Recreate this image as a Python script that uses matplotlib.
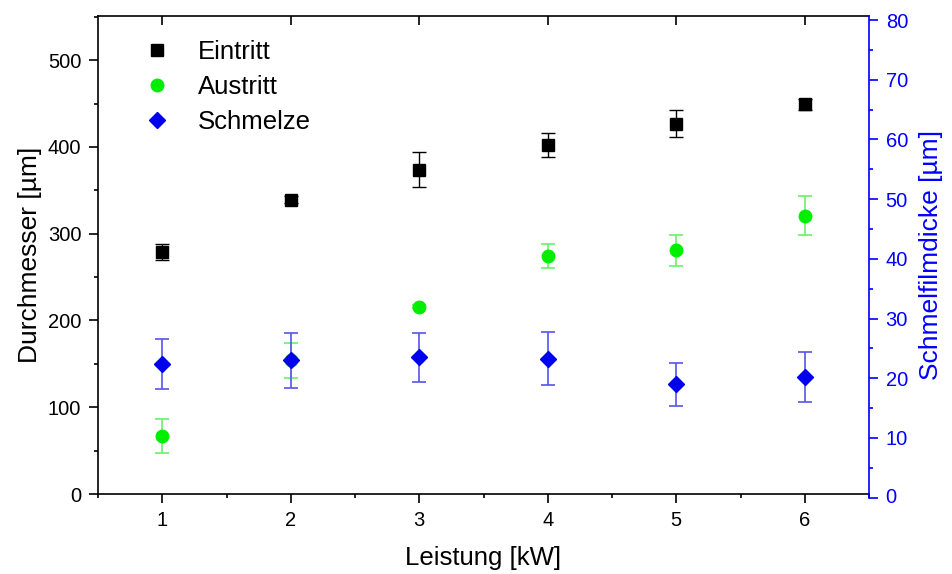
import matplotlib
matplotlib.use("Agg")
import matplotlib.pyplot as plt
from matplotlib.ticker import MultipleLocator
from matplotlib.lines import Line2D
import matplotlib.transforms as mtransforms

plt.rcParams['font.family'] = ['Liberation Sans', 'DejaVu Sans']

leistung = [1, 2, 3, 4, 5, 6]
eintritt = [279, 339, 374, 402, 427, 449]
eintritt_err = [9, 4, 20, 14, 16, 6]
austritt = [67, 154, 216, 274, 281, 321]
austritt_err = [20, 20, 2, 14, 18, 22]
schmelze = [22.4, 23.0, 23.5, 23.3, 19.0, 20.2]
schmelze_err = [4.2, 4.6, 4.1, 4.5, 3.6, 4.2]

BLUE = '#0000ff'

fig = plt.figure(figsize=(9.52, 5.74), dpi=100)
ax = fig.add_axes([98/952, 80/574, (869-98)/952, (494-16)/574])
ax2 = ax.twinx()

ax.errorbar(leistung, austritt, yerr=austritt_err, fmt='o', color='#00ee00',
            ecolor='#66f266', elinewidth=1.2, capsize=5, capthick=1.2,
            markersize=9, zorder=3)
ax.errorbar(leistung, eintritt, yerr=eintritt_err, fmt='s', color='black',
            ecolor='black', elinewidth=1.0, capsize=5, capthick=1.0,
            markersize=8.5, zorder=4)
ax2.errorbar(leistung, schmelze, yerr=schmelze_err, fmt='D', color='#0000ee',
             ecolor='#5555ee', elinewidth=1.2, capsize=5, capthick=1.2,
             markersize=7.8, zorder=3)

ax.set_xlim(0.5, 6.5)
ax.set_ylim(0, 551)
ax2.set_ylim(0.62, 80.67)

ax.xaxis.set_major_locator(MultipleLocator(1))
ax.xaxis.set_minor_locator(MultipleLocator(0.5))
ax.yaxis.set_major_locator(MultipleLocator(100))
ax.yaxis.set_minor_locator(MultipleLocator(50))
ax2.yaxis.set_major_locator(MultipleLocator(10))
ax2.yaxis.set_minor_locator(MultipleLocator(5))

ax.tick_params(axis='both', which='major', direction='out', length=6.5, width=1.2,
               labelsize=14.5, pad=5.5)
ax.tick_params(axis='both', which='minor', direction='out', length=3, width=1.2)
ax.tick_params(axis='x', top=True, which='major')
ax2.tick_params(axis='y', which='major', direction='out', length=6.5, width=1.2,
                labelsize=14.5, colors=BLUE, pad=5.5)
ax2.tick_params(axis='y', which='minor', direction='out', length=3, width=1.2, colors=BLUE)

# top ticks inward
for t in ax.xaxis.get_major_ticks():
    t.tick2line.set_marker(3)

for s in ['left', 'bottom', 'top']:
    ax.spines[s].set_linewidth(1.2)
ax2.spines['right'].set_color(BLUE)
ax2.spines['right'].set_linewidth(1.2)
ax2.spines['right'].set_bounds(0, 80.67)
ax2.spines['left'].set_visible(False)
ax2.spines['top'].set_visible(False)
ax2.spines['bottom'].set_visible(False)
ax.spines['right'].set_visible(False)

# zero tick of the right axis sits just below the plot frame
trans = mtransforms.blended_transform_factory(ax2.transAxes, ax2.transData)
ax2.plot([1.0], [0], marker=1, markersize=6.5, markeredgewidth=1.2, color=BLUE,
         transform=trans, clip_on=False)
offset = mtransforms.ScaledTranslation((6.5 + 5.5) / 72, 0, fig.dpi_scale_trans)
ax2.text(1.0, 0, '0', transform=trans + offset, color=BLUE, fontsize=14.5,
         ha='left', va='center', clip_on=False)

ax.set_xlabel('Leistung [kW]', fontsize=18.5, labelpad=12)
ax.set_ylabel('Durchmesser [µm]', fontsize=19, labelpad=4)
ax2.set_ylabel('Schmelfilmdicke [µm]', fontsize=19, color=BLUE, labelpad=8)

handles = [
    Line2D([], [], marker='s', color='black', linestyle='none', markersize=8.5),
    Line2D([], [], marker='o', color='#00ee00', linestyle='none', markersize=9),
    Line2D([], [], marker='D', color='#0000ee', linestyle='none', markersize=7.8),
]
ax.legend(handles, ['Eintritt', 'Austritt', 'Schmelze'], loc='upper left',
          frameon=False, fontsize=18.5, handletextpad=0.6, labelspacing=0.43,
          borderaxespad=0, bbox_to_anchor=(0.03, 0.972))

fig.savefig('out.png', dpi=100)
